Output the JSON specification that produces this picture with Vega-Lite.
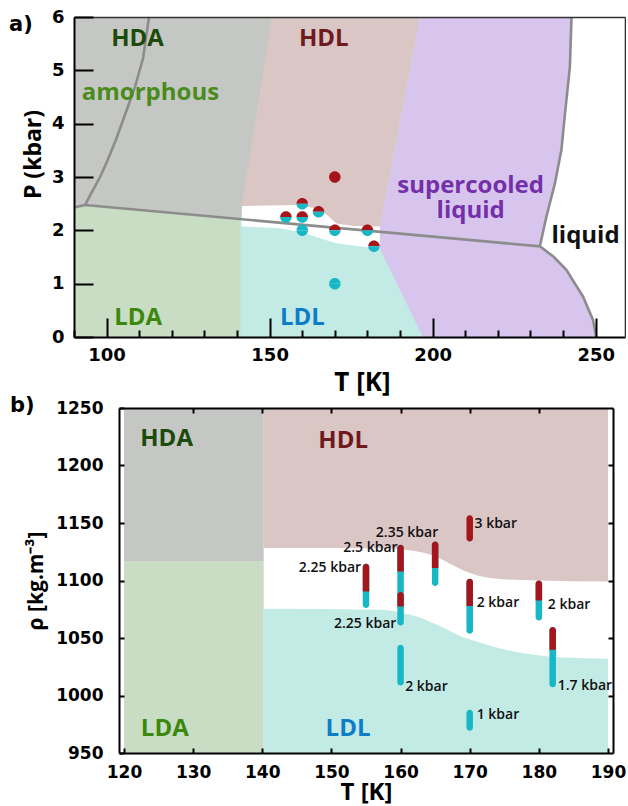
{
  "$schema": "https://vega.github.io/schema/vega-lite/v6.json",
  "padding": {"left": 0, "top": 8, "right": 0, "bottom": 0},
  "background": "white",
  "config": {"view": {"stroke": null}, "axis": {"grid": false}},
  "spacing": 0,
  "vconcat": [
    {
      "spacing": 8,
      "hconcat": [
        {"width": 1, "height": 1, "data": {"values": []}, "mark": "point"},
        {
          "width": 551,
          "height": 320,
          "title": {"text": "a)", "anchor": "start", "frame": "group", "offset": -27, "dx": -65, "font": "DejaVu Sans", "fontSize": 21, "fontWeight": "bold", "color": "#000"},
          "resolve": {"axis": {"x": "independent", "y": "independent"}, "scale": {"color": "independent"}},
          "layer": [
            {
              "data": {"values": [
                {"T": 242.6, "P": 6}, {"T": 242.1, "P": 5.07}, {"T": 240.5, "P": 4.13}, {"T": 239.5, "P": 3.51},
                {"T": 237.5, "P": 2.88}, {"T": 234.9, "P": 2.26}, {"T": 232.9, "P": 1.70}, {"T": 237.2, "P": 1.50},
                {"T": 241.0, "P": 1.26}, {"T": 246.1, "P": 0.76}, {"T": 249.2, "P": 0.32}, {"T": 250.2, "P": 0}
              ]},
              "mark": {"type": "area", "orient": "horizontal", "fill": "#d8c5ee"},
              "encoding": {
                "y": {"field": "P", "type": "quantitative", "scale": {"domain": [0, 6], "nice": false, "zero": false}, "axis": null},
                "x": {"field": "T", "type": "quantitative", "scale": {"domain": [90, 259], "nice": false, "zero": false}, "axis": null},
                "x2": {"datum": 90}
              }
            },
            {
              "data": {"values": [
                {"T": 196.1, "P": 6}, {"T": 183.8, "P": 2.07}, {"T": 183.8, "P": 1.66}, {"T": 197.0, "P": 0}
              ]},
              "mark": {"type": "area", "orient": "horizontal", "fill": "#c2ebe6"},
              "encoding": {
                "y": {"field": "P", "type": "quantitative", "scale": {"domain": [0, 6], "nice": false, "zero": false}, "axis": null},
                "x": {"field": "T", "type": "quantitative", "scale": {"domain": [90, 259], "nice": false, "zero": false}, "axis": null},
                "x2": {"datum": 90}
              }
            },
            {
              "data": {"values": [
                {"T": 141.4, "P": 2.07}, {"T": 153.2, "P": 2.04}, {"T": 161.3, "P": 1.94}, {"T": 165.4, "P": 1.85},
                {"T": 170.5, "P": 1.76}, {"T": 178.7, "P": 1.69}, {"T": 183.8, "P": 1.66}
              ]},
              "mark": {"type": "area", "fill": "#ffffff"},
              "encoding": {
                "x": {"field": "T", "type": "quantitative", "scale": {"domain": [90, 259], "nice": false, "zero": false}, "axis": null},
                "y": {"field": "P", "type": "quantitative", "scale": {"domain": [0, 6], "nice": false, "zero": false}, "axis": null},
                "y2": {"datum": 6}
              }
            },
            {
              "data": {"values": [
                {"T": 141.4, "P": 2.456}, {"T": 158.3, "P": 2.475}, {"T": 164.4, "P": 2.41}, {"T": 167.5, "P": 2.29},
                {"T": 170.5, "P": 2.13}, {"T": 175.6, "P": 2.08}, {"T": 183.8, "P": 2.07}, {"T": 196.1, "P": 6}
              ]},
              "mark": {"type": "area", "fill": "#dbc6c6"},
              "encoding": {
                "x": {"field": "T", "type": "quantitative", "scale": {"domain": [90, 259], "nice": false, "zero": false}, "axis": null},
                "y": {"field": "P", "type": "quantitative", "scale": {"domain": [0, 6], "nice": false, "zero": false}, "axis": null},
                "y2": {"datum": 6}
              }
            },
            {
              "data": {"values": [
                {"T": 90, "P": 2.43}, {"T": 93.4, "P": 2.475}, {"T": 141.4, "P": 2.205}, {"T": 141.5, "P": 2.456}, {"T": 150.7, "P": 6}
              ]},
              "mark": {"type": "area", "fill": "#c5c7c4"},
              "encoding": {
                "x": {"field": "T", "type": "quantitative", "scale": {"domain": [90, 259], "nice": false, "zero": false}, "axis": null},
                "y": {"field": "P", "type": "quantitative", "scale": {"domain": [0, 6], "nice": false, "zero": false}, "axis": null},
                "y2": {"datum": 6}
              }
            },
            {
              "data": {"values": [
                {"T": 90, "P": 2.43}, {"T": 93.4, "P": 2.475}, {"T": 141.0, "P": 2.207}
              ]},
              "mark": {"type": "area", "fill": "#c9dcc4"},
              "encoding": {
                "x": {"field": "T", "type": "quantitative", "scale": {"domain": [90, 259], "nice": false, "zero": false}, "axis": null},
                "y": {"field": "P", "type": "quantitative", "scale": {"domain": [0, 6], "nice": false, "zero": false}, "axis": null},
                "y2": {"datum": 0}
              }
            },
            {
              "data": {"values": [
                {"c": "transition", "n": 0, "T": 90, "P": 2.43},
                {"c": "transition", "n": 1, "T": 93.4, "P": 2.475},
                {"c": "transition", "n": 2, "T": 232.9, "P": 1.70},
                {"c": "amorphous", "n": 0, "T": 113.0, "P": 6},
                {"c": "amorphous", "n": 1, "T": 111.2, "P": 5.23},
                {"c": "amorphous", "n": 2, "T": 108.7, "P": 4.69},
                {"c": "amorphous", "n": 3, "T": 106.2, "P": 4.26},
                {"c": "amorphous", "n": 4, "T": 102.8, "P": 3.69},
                {"c": "amorphous", "n": 5, "T": 100.2, "P": 3.3},
                {"c": "amorphous", "n": 6, "T": 98.0, "P": 3.0},
                {"c": "amorphous", "n": 7, "T": 95.5, "P": 2.72},
                {"c": "amorphous", "n": 8, "T": 93.4, "P": 2.475},
                {"c": "liquid", "n": 0, "T": 242.6, "P": 6},
                {"c": "liquid", "n": 1, "T": 242.1, "P": 5.07},
                {"c": "liquid", "n": 2, "T": 240.5, "P": 4.13},
                {"c": "liquid", "n": 3, "T": 239.5, "P": 3.51},
                {"c": "liquid", "n": 4, "T": 237.5, "P": 2.88},
                {"c": "liquid", "n": 5, "T": 234.9, "P": 2.26},
                {"c": "liquid", "n": 6, "T": 232.9, "P": 1.70},
                {"c": "liquid", "n": 7, "T": 237.2, "P": 1.50},
                {"c": "liquid", "n": 8, "T": 241.0, "P": 1.26},
                {"c": "liquid", "n": 9, "T": 246.1, "P": 0.76},
                {"c": "liquid", "n": 10, "T": 249.2, "P": 0.32},
                {"c": "liquid", "n": 11, "T": 250.2, "P": 0}
              ]},
              "mark": {"type": "line", "stroke": "#8c8c8c", "strokeWidth": 2.6},
              "encoding": {
                "x": {"field": "T", "type": "quantitative", "scale": {"domain": [90, 259], "nice": false, "zero": false},
                  "axis": {"orient": "bottom", "values": [90, 100, 110, 120, 130, 140, 150, 160, 170, 180, 190, 200, 210, 220, 230, 240, 250],
                    "tickSize": {"condition": {"test": "datum.value % 50 === 0", "value": -19}, "value": -7},
                    "tickColor": "#000", "tickWidth": 2,
                    "labelExpr": "datum.value % 50 === 0 ? datum.label : ''",
                    "labelFont": "DejaVu Sans", "labelFontWeight": "bold", "labelFontSize": 18, "labelColor": "#000",
                    "labelPadding": 28, "labelFlush": false, "labelOverlap": false,
                    "domainColor": "#000", "domainWidth": 2,
                    "title": "T [K]", "titleFont": "Open Sans", "titleFontWeight": "bold", "titleFontSize": 26, "titleColor": "#000", "titlePadding": -7, "titleX": 288,
                    "zindex": 1}},
                "y": {"field": "P", "type": "quantitative", "scale": {"domain": [0, 6], "nice": false, "zero": false},
                  "axis": {"orient": "left", "values": [0, 1, 2, 3, 4, 5, 6], "tickSize": -19, "tickColor": "#000", "tickWidth": 2,
                    "labelFont": "DejaVu Sans", "labelFontWeight": "bold", "labelFontSize": 18, "labelColor": "#000",
                    "labelPadding": 29, "labelFlush": false, "labelOverlap": false,
                    "domainColor": "#000", "domainWidth": 2,
                    "title": "P  (kbar)", "titleFont": "Open Sans", "titleFontWeight": "bold", "titleFontSize": 23, "titleColor": "#000", "titlePadding": 6, "titleY": 137,
                    "zindex": 1}},
                "detail": {"field": "c"},
                "order": {"field": "n"}
              }
            },
            {
              "data": {"name": "points_a", "values": [
                {"T": 155, "P": 2.25, "upper": "HDL", "lower": "LDL"},
                {"T": 160, "P": 2.5, "upper": "HDL", "lower": "LDL"},
                {"T": 165, "P": 2.35, "upper": "HDL", "lower": "LDL"},
                {"T": 170, "P": 3, "upper": "HDL", "lower": "HDL"},
                {"T": 160, "P": 2.25, "upper": "HDL", "lower": "LDL"},
                {"T": 170, "P": 2, "upper": "HDL", "lower": "LDL"},
                {"T": 180, "P": 2, "upper": "HDL", "lower": "LDL"},
                {"T": 182, "P": 1.7, "upper": "HDL", "lower": "LDL"},
                {"T": 160, "P": 2, "upper": "LDL", "lower": "LDL"},
                {"T": 170, "P": 1, "upper": "LDL", "lower": "LDL"}
              ]},
              "mark": {"type": "point", "filled": true, "opacity": 1, "size": 132, "shape": "M -1 0 A 1 1 0 0 1 1 0 Z"},
              "encoding": {
                "x": {"field": "T", "type": "quantitative", "scale": {"domain": [90, 259], "nice": false, "zero": false},
                  "axis": {"orient": "top", "ticks": false, "labels": false, "title": null, "domainColor": "#333", "domainWidth": 1.6, "zindex": 1}},
                "y": {"field": "P", "type": "quantitative", "scale": {"domain": [0, 6], "nice": false, "zero": false},
                  "axis": {"orient": "right", "ticks": false, "labels": false, "title": null, "domainColor": "#333", "domainWidth": 1.6, "zindex": 1}},
                "color": {"field": "upper", "type": "nominal", "scale": {"domain": ["HDL", "LDL"], "range": ["#a5161c", "#18b7c6"]}, "legend": null}
              }
            },
            {
              "data": {"name": "points_a"},
              "mark": {"type": "point", "filled": true, "opacity": 1, "size": 132, "shape": "M -1 0 A 1 1 0 0 0 1 0 Z"},
              "encoding": {
                "x": {"field": "T", "type": "quantitative", "scale": {"domain": [90, 259], "nice": false, "zero": false}, "axis": null},
                "y": {"field": "P", "type": "quantitative", "scale": {"domain": [0, 6], "nice": false, "zero": false}, "axis": null},
                "color": {"field": "lower", "type": "nominal", "scale": {"domain": ["HDL", "LDL"], "range": ["#a5161c", "#18b7c6"]}, "legend": null}
              }
            },
            {
              "data": {"values": [
                {"label": "HDA", "kind": "HDA", "T": 109.5, "P": 5.58},
                {"label": "amorphous", "kind": "amorphous", "T": 113.45, "P": 4.58},
                {"label": "HDL", "kind": "HDL", "T": 166.6, "P": 5.58},
                {"label": "supercooled", "kind": "supercooled", "T": 211.65, "P": 2.835},
                {"label": "liquid", "kind": "supercooled", "T": 211.65, "P": 2.36},
                {"label": "liquid", "kind": "liquid", "T": 246.9, "P": 1.89},
                {"label": "LDA", "kind": "LDA", "T": 109.7, "P": 0.36},
                {"label": "LDL", "kind": "LDL", "T": 160.05, "P": 0.36}
              ]},
              "mark": {"type": "text", "font": "Open Sans", "fontWeight": "bold", "fontSize": 24, "align": "center", "baseline": "middle"},
              "encoding": {
                "x": {"field": "T", "type": "quantitative", "scale": {"domain": [90, 259], "nice": false, "zero": false}, "axis": null},
                "y": {"field": "P", "type": "quantitative", "scale": {"domain": [0, 6], "nice": false, "zero": false}, "axis": null},
                "text": {"field": "label"},
                "color": {"field": "kind", "type": "nominal",
                  "scale": {"domain": ["HDA", "amorphous", "HDL", "supercooled", "liquid", "LDA", "LDL"],
                            "range": ["#1c4a0a", "#4a8c1c", "#6e1a1e", "#7330a8", "#111111", "#3c880c", "#0c7dc6"]},
                  "legend": null}
              }
            }
          ]
        }
      ]
    },
    {
      "spacing": 9,
      "hconcat": [
        {"width": 1, "height": 1, "data": {"values": []}, "mark": "point"},
        {
          "width": 494,
          "height": 345,
          "title": {"text": "b)", "anchor": "start", "frame": "group", "offset": -17, "dx": -109, "font": "DejaVu Sans", "fontSize": 21, "fontWeight": "bold", "color": "#000"},
          "resolve": {"axis": {"x": "independent", "y": "independent"}, "scale": {"color": "independent"}},
          "layer": [
            {
              "data": {"values": [
                {"region": "HDA", "T": 120, "lo": 1117, "hi": 1250},
                {"region": "HDA", "T": 140.2, "lo": 1117, "hi": 1250},
                {"region": "LDA", "T": 120, "lo": 950, "hi": 1117},
                {"region": "LDA", "T": 140.2, "lo": 950, "hi": 1117},
                {"region": "HDL", "T": 140.2, "lo": 1128.3, "hi": 1250},
                {"region": "HDL", "T": 158, "lo": 1128, "hi": 1250},
                {"region": "HDL", "T": 161, "lo": 1126.5, "hi": 1250},
                {"region": "HDL", "T": 163, "lo": 1124.5, "hi": 1250},
                {"region": "HDL", "T": 165, "lo": 1121, "hi": 1250},
                {"region": "HDL", "T": 167, "lo": 1115, "hi": 1250},
                {"region": "HDL", "T": 169, "lo": 1109, "hi": 1250},
                {"region": "HDL", "T": 171, "lo": 1104.5, "hi": 1250},
                {"region": "HDL", "T": 174, "lo": 1101.5, "hi": 1250},
                {"region": "HDL", "T": 180, "lo": 1100, "hi": 1250},
                {"region": "HDL", "T": 190, "lo": 1099.2, "hi": 1250},
                {"region": "LDL", "T": 140.2, "lo": 950, "hi": 1075.4},
                {"region": "LDL", "T": 157, "lo": 950, "hi": 1074.5},
                {"region": "LDL", "T": 160.5, "lo": 950, "hi": 1071.5},
                {"region": "LDL", "T": 162.7, "lo": 950, "hi": 1068},
                {"region": "LDL", "T": 164.5, "lo": 950, "hi": 1063.5},
                {"region": "LDL", "T": 166.5, "lo": 950, "hi": 1058},
                {"region": "LDL", "T": 168.5, "lo": 950, "hi": 1052},
                {"region": "LDL", "T": 171, "lo": 950, "hi": 1047},
                {"region": "LDL", "T": 174, "lo": 950, "hi": 1041.5},
                {"region": "LDL", "T": 178, "lo": 950, "hi": 1036.5},
                {"region": "LDL", "T": 183, "lo": 950, "hi": 1033.2},
                {"region": "LDL", "T": 190, "lo": 950, "hi": 1031.9}
              ]},
              "mark": {"type": "area", "opacity": 1, "interpolate": "monotone"},
              "encoding": {
                "x": {"field": "T", "type": "quantitative", "scale": {"domain": [120, 190], "nice": false, "zero": false},
                  "axis": {"orient": "bottom", "values": [120, 130, 140, 150, 160, 170, 180, 190], "tickSize": -5, "tickColor": "#000", "tickWidth": 2,
                    "labelFont": "DejaVu Sans", "labelFontWeight": "bold", "labelFontSize": 17, "labelColor": "#000",
                    "labelPadding": 16, "labelFlush": false, "labelOverlap": false,
                    "domainColor": "#000", "domainWidth": 2,
                    "title": "T [K]", "titleFont": "Open Sans", "titleFontWeight": "bold", "titleFontSize": 24, "titleColor": "#000", "titlePadding": 0,
                    "zindex": 1}},
                "y": {"field": "lo", "type": "quantitative", "scale": {"domain": [950, 1250], "nice": false, "zero": false},
                  "axis": {"orient": "left", "values": [950, 1000, 1050, 1100, 1150, 1200, 1250], "format": "d", "tickSize": -5, "tickColor": "#000", "tickWidth": 2,
                    "labelFont": "DejaVu Sans", "labelFontWeight": "bold", "labelFontSize": 17, "labelColor": "#000",
                    "labelPadding": 21, "labelFlush": false, "labelOverlap": false,
                    "domainColor": "#000", "domainWidth": 2,
                    "title": "ρ [kg.m⁻³]", "titleFont": "Open Sans", "titleFontWeight": "bold", "titleFontSize": 21, "titleColor": "#000", "titlePadding": 9,
                    "zindex": 1}},
                "y2": {"field": "hi"},
                "color": {"field": "region", "type": "nominal",
                  "scale": {"domain": ["HDA", "LDA", "HDL", "LDL"], "range": ["#c5c7c4", "#c9dcc4", "#dbc6c6", "#c2ebe6"]},
                  "legend": null}
              }
            },
            {
              "data": {"name": "ellipses", "values": [
                {"T": 155, "top": 1114.6, "split": 1090.5, "bot": 1076.0, "upper": "HDL", "lower": "LDL", "label": "2.25 kbar", "lT": 145.27, "lrho": 1111.0},
                {"T": 160, "top": 1131.1, "split": 1107.9, "bot": 1085.6, "upper": "HDL", "lower": "LDL", "label": "2.5 kbar", "lT": 151.7, "lrho": 1128.4},
                {"T": 165, "top": 1134.0, "split": 1110.8, "bot": 1095.2, "upper": "HDL", "lower": "LDL", "label": "2.35 kbar", "lT": 156.42, "lrho": 1140.9},
                {"T": 170, "top": 1156.7, "split": 1134.0, "bot": 1134.0, "upper": "HDL", "lower": "HDL", "label": "3 kbar", "lT": 170.69, "lrho": 1148.7},
                {"T": 160, "top": 1090.0, "split": 1077.4, "bot": 1060.9, "upper": "HDL", "lower": "LDL", "label": "2.25 kbar", "lT": 150.37, "lrho": 1062.3},
                {"T": 170, "top": 1101.5, "split": 1077.8, "bot": 1053.6, "upper": "HDL", "lower": "LDL", "label": "2 kbar", "lT": 171.0, "lrho": 1080.5},
                {"T": 180, "top": 1100.0, "split": 1082.6, "bot": 1065.2, "upper": "HDL", "lower": "LDL", "label": "2 kbar", "lT": 181.3, "lrho": 1079.1},
                {"T": 182, "top": 1059.5, "split": 1039.7, "bot": 1007.2, "upper": "HDL", "lower": "LDL", "label": "1.7 kbar", "lT": 182.73, "lrho": 1007.9},
                {"T": 160, "top": 1044.1, "split": 1044.1, "bot": 1008.6, "upper": "LDL", "lower": "LDL", "label": "2 kbar", "lT": 160.67, "lrho": 1007.0},
                {"T": 170, "top": 987.7, "split": 987.7, "bot": 969.4, "upper": "LDL", "lower": "LDL", "label": "1 kbar", "lT": 171.0, "lrho": 982.7}
              ]},
              "mark": {"type": "bar", "width": 6.5, "cornerRadius": 3.25, "opacity": 1},
              "encoding": {
                "x": {"field": "T", "type": "quantitative", "scale": {"domain": [120, 190], "nice": false, "zero": false}, "axis": null},
                "y": {"field": "top", "type": "quantitative", "scale": {"domain": [950, 1250], "nice": false, "zero": false}, "axis": null},
                "y2": {"field": "bot"},
                "color": {"field": "lower", "type": "nominal", "scale": {"domain": ["HDL", "LDL"], "range": ["#a5161c", "#18b7c6"]}, "legend": null}
              }
            },
            {
              "data": {"name": "ellipses"},
              "transform": [{"filter": "datum.upper === 'HDL' && datum.lower === 'LDL'"}],
              "mark": {"type": "bar", "width": 6.5, "cornerRadiusTopLeft": 3.25, "cornerRadiusTopRight": 3.25, "fill": "#a5161c", "opacity": 1},
              "encoding": {
                "x": {"field": "T", "type": "quantitative", "scale": {"domain": [120, 190], "nice": false, "zero": false},
                  "axis": {"orient": "top", "values": [130, 140, 150, 160, 170, 180], "tickSize": -5, "tickColor": "#000", "tickWidth": 2,
                    "labels": false, "title": null, "domainColor": "#000", "domainWidth": 2, "zindex": 1}},
                "y": {"field": "top", "type": "quantitative", "scale": {"domain": [950, 1250], "nice": false, "zero": false},
                  "axis": {"orient": "right", "values": [1000, 1050, 1100, 1150, 1200], "tickSize": -5, "tickColor": "#000", "tickWidth": 2,
                    "labels": false, "title": null, "domainColor": "#000", "domainWidth": 2, "zindex": 1}},
                "y2": {"field": "split"}
              }
            },
            {
              "data": {"name": "ellipses"},
              "mark": {"type": "text", "font": "Open Sans", "fontWeight": 600, "fontSize": 14, "align": "left", "baseline": "middle", "color": "#111"},
              "encoding": {
                "x": {"field": "lT", "type": "quantitative", "scale": {"domain": [120, 190], "nice": false, "zero": false}, "axis": null},
                "y": {"field": "lrho", "type": "quantitative", "scale": {"domain": [950, 1250], "nice": false, "zero": false}, "axis": null},
                "text": {"field": "label"}
              }
            },
            {
              "data": {"values": [
                {"label": "HDA", "T": 126.16, "rho": 1223.4},
                {"label": "HDL", "T": 151.7, "rho": 1221.0},
                {"label": "LDA", "T": 125.9, "rho": 971.3},
                {"label": "LDL", "T": 152.4, "rho": 970.8}
              ]},
              "mark": {"type": "text", "font": "Open Sans", "fontWeight": "bold", "fontSize": 24, "align": "center", "baseline": "middle"},
              "encoding": {
                "x": {"field": "T", "type": "quantitative", "scale": {"domain": [120, 190], "nice": false, "zero": false}, "axis": null},
                "y": {"field": "rho", "type": "quantitative", "scale": {"domain": [950, 1250], "nice": false, "zero": false}, "axis": null},
                "text": {"field": "label"},
                "color": {"field": "label", "type": "nominal",
                  "scale": {"domain": ["HDA", "HDL", "LDA", "LDL"], "range": ["#1c4a0a", "#6e1a1e", "#3c880c", "#0c7dc6"]},
                  "legend": null}
              }
            }
          ]
        }
      ]
    }
  ]
}
